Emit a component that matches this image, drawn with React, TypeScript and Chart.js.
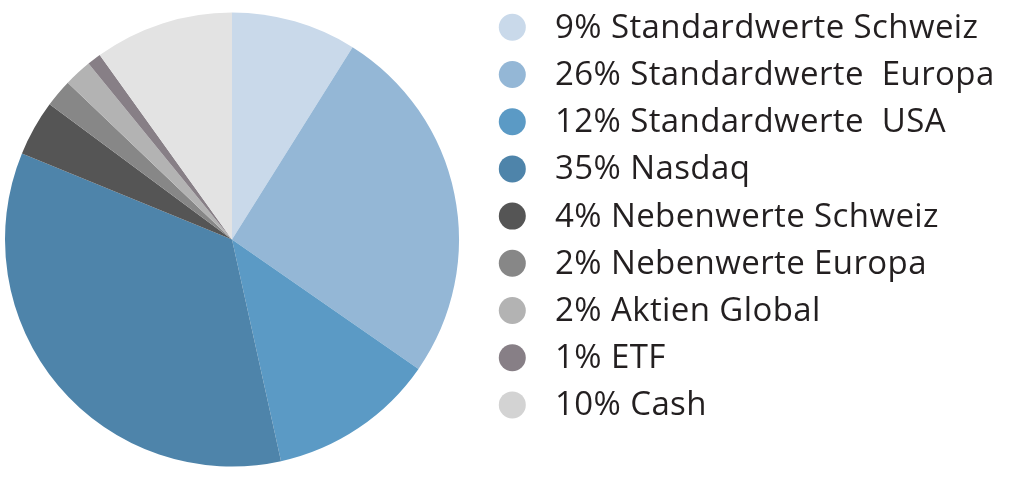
import React, { useEffect, useRef } from "react";
import { Chart, registerables } from "chart.js";

Chart.register(...registerables);

const labels = [
  "9% Standardwerte Schweiz",
  "26% Standardwerte  Europa",
  "12% Standardwerte  USA",
  "35% Nasdaq",
  "4% Nebenwerte Schweiz",
  "2% Nebenwerte Europa",
  "2% Aktien Global",
  "1% ETF",
  "10% Cash",
];
const values = [9, 26, 12, 35, 4, 2, 2, 1, 10];
const sliceColors = [
  "#c9d9ea",
  "#94b7d6",
  "#5b9ac5",
  "#4e84aa",
  "#555555",
  "#878787",
  "#b3b3b3",
  "#877f86",
  "#e3e3e3",
];
const legendColors = [
  "#c9d9ea",
  "#94b7d6",
  "#5b9ac5",
  "#4e84aa",
  "#555555",
  "#878787",
  "#b3b3b3",
  "#877f86",
  "#d3d3d3",
];

const legendPlugin = {
  id: "sideLegend",
  afterDraw(chart: any) {
    const ctx = chart.ctx as CanvasRenderingContext2D;
    const x0 = 512.3;
    const y0 = 27.3;
    const gap = 47.2;
    const r = 13.5;
    ctx.save();
    ctx.font = "33px 'Open Sans'";
    (ctx as any).letterSpacing = "0.4px";
    ctx.textBaseline = "middle";
    ctx.textAlign = "left";
    (chart.data.labels as string[]).forEach((lab, i) => {
      const y = y0 + i * gap;
      ctx.beginPath();
      ctx.arc(x0, y, r, 0, Math.PI * 2);
      ctx.fillStyle = legendColors[i];
      ctx.fill();
      ctx.fillStyle = "#231f20";
      ctx.fillText(lab, 555, y + 1);
    });
    ctx.restore();
  },
};

export default function App() {
  const ref = useRef<HTMLCanvasElement>(null);
  useEffect(() => {
    document.body.style.margin = "0";
    const chart = new Chart(ref.current!, {
      type: "pie",
      data: {
        labels,
        datasets: [
          {
            data: values,
            backgroundColor: sliceColors,
            borderWidth: 0,
          },
        ],
      },
      options: {
        responsive: false,
        animation: false,
        layout: { padding: { left: 5, top: 12, bottom: 22, right: 565 } },
        plugins: {
          legend: { display: false },
          tooltip: { enabled: false },
        },
      },
      plugins: [legendPlugin],
    });
    return () => chart.destroy();
  }, []);
  return <canvas ref={ref} width={1024} height={489} style={{ display: "block" }} />;
}
